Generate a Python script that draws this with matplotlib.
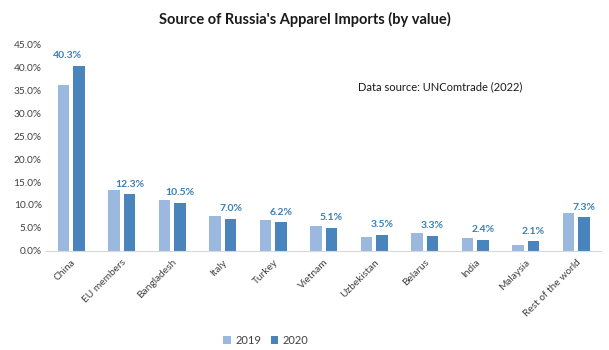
import numpy as np
import matplotlib as mpl
mpl.use('agg')
import matplotlib.pyplot as plt

plt.rcParams['font.family'] = ['Lato', 'DejaVu Sans']

countries = ['China', 'EU members', 'Bangladesh', 'Italy', 'Turkey', 'Vietnam',
             'Uzbekistan', 'Belarus', 'India', 'Malaysia', 'Rest of the world']
share_2019 = [36.1, 13.3, 11.1, 7.5, 6.7, 5.4, 3.1, 3.9, 2.8, 1.3, 8.3]
share_2020 = [40.3, 12.3, 10.5, 7.0, 6.2, 5.1, 3.5, 3.3, 2.4, 2.1, 7.3]
yticks = [0, 5, 10, 15, 20, 25, 30, 35, 40, 45]

c2019 = '#9bb9de'
c2020 = '#4a84bd'
lab_col = '#3a7fb8'

fig = plt.figure(figsize=(6.09, 3.5), dpi=100)
ax = fig.add_axes([0.0755, 0.283, 0.912, 0.591])

x = np.arange(len(countries))
w = 0.23
b1 = ax.bar(x - 0.155, share_2019, w, color=c2019, label='2019')
b2 = ax.bar(x + 0.155, share_2020, w, color=c2020, label='2020')

for xi, v in zip(x, share_2020):
    dx = -8 if xi == 0 else 0
    ax.annotate(f'{v:.1f}%', (xi + 0.155, v), xytext=(dx, 4), textcoords='offset points',
                ha='center', va='bottom', fontsize=7.5, fontweight='bold', color=lab_col)

ax.set_xlim(-0.5, len(countries) - 0.5)
ax.set_ylim(0, 45)
ax.set_yticks(yticks)
ax.set_yticklabels([f'{t:.1f}%' for t in yticks], fontsize=7.3, color='#404040')
ax.set_xticks(x)
ax.set_xticklabels(countries, rotation=45, ha='right', rotation_mode='anchor',
                   fontsize=7.3, color='#404040')
ax.tick_params(axis='both', length=0, pad=3)
ax.tick_params(axis='x', pad=5)
for s in ['top', 'right', 'left']:
    ax.spines[s].set_visible(False)
ax.spines['bottom'].set_color('#d9d9d9')

fig.text(0.5, 0.945, "Source of Russia's Apparel Imports (by value)", ha='center', va='center',
         fontsize=10.5, fontweight='bold', color='#1a1a1a')
fig.text(358 / 609, 1 - 87 / 350, 'Data source: UNComtrade (2022)', ha='left', va='center',
         fontsize=8, color='#1a1a1a')

fig.legend(handles=[b1, b2], loc='center', bbox_to_anchor=(266 / 609, 10 / 350), ncol=2,
           frameon=False, fontsize=8, handlelength=0.7, handleheight=0.7,
           columnspacing=0.8, handletextpad=0.4, labelcolor='#404040')

fig.savefig('out.png', dpi=100)
